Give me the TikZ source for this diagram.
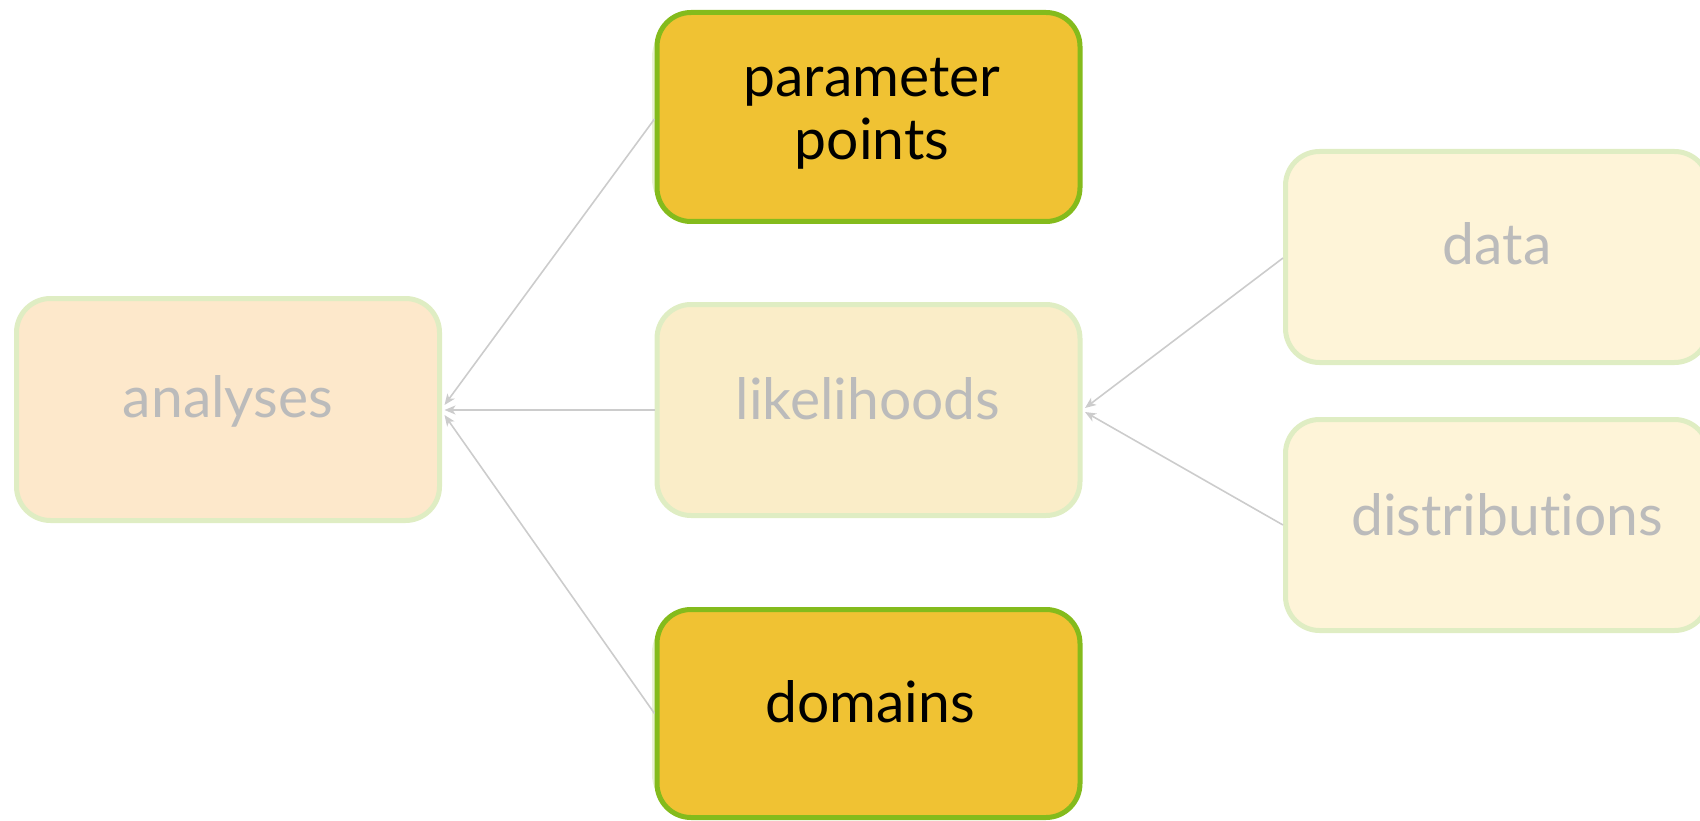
\documentclass[tikz,border=0pt]{standalone}
\usepackage{fontspec}
\setmainfont{Lato}[RawFeature=-liga]
\usetikzlibrary{arrows.meta,calc}

\definecolor{paleborder}{HTML}{DFEDC3}
\definecolor{peachfill}{HTML}{FDE8CB}
\definecolor{creamfill}{HTML}{FAEDC8}
\definecolor{lightfill}{HTML}{FEF4D8}
\definecolor{goldfill}{HTML}{F0C233}
\definecolor{greenborder}{HTML}{84BB1C}
\definecolor{dimtext}{HTML}{BBBBBB}
\definecolor{wire}{HTML}{CCCCCC}

\tikzset{
  card/.style={rectangle, rounded corners=34pt, line width=5pt,
    minimum width=423pt, inner sep=0pt},
  dimcard/.style={card, draw=paleborder},
  activecard/.style={card, draw=greenborder, fill=goldfill},
  ghostcard/.style={card, draw=paleborder!70, fill=white},
  lbl/.style={anchor=base, font=\fontsize{57}{68}\selectfont, inner sep=0pt},
  dimlbl/.style={lbl, text=dimtext},
  activelbl/.style={lbl, text=black},
  link/.style={draw=wire, line width=1.6pt,
    -{Stealth[length=11pt, width=9pt, inset=3pt]}}
}

\begin{document}
\begin{tikzpicture}[x=1pt, y=-1pt]
  \useasboundingbox (0,0) rectangle (1700,821);

  % boxes
  \node[dimcard, fill=peachfill, minimum height=222pt] (analyses) at (228,409.5) {};
  \node[ghostcard, minimum height=190pt] (paramsghost) at (866,118) {};
  \node[activecard, minimum height=209pt] (params) at (868.5,117) {};
  \node[dimcard, fill=creamfill, minimum height=211pt] (likelihoods) at (868.5,410) {};
  \node[dimcard, fill=lightfill, minimum height=211pt] (data) at (1497,257) {};
  \node[dimcard, fill=lightfill, minimum height=211pt] (distributions) at (1497,525) {};
  \node[ghostcard, minimum height=190pt] (domainsghost) at (866,713.5) {};
  \node[activecard, minimum height=208pt] (domains) at (868.5,713.5) {};

  % labels
  \node[dimlbl] (tanalyses) at (228,417) {analyses};
  \node[activelbl] (tparams1) at (872,97) {parameter};
  \node[activelbl] (tparams2) at (872,160) {points};
  \node[dimlbl] (tlikelihoods) at (868,419) {likelihoods};
  \node[dimlbl] (tdata) at (1497,265) {data};
  \node[dimlbl] (tdistributions) at (1507,535) {distributions};
  \node[activelbl] (tdomains) at (870,722) {domains};

  % connectors
  \draw[link] ($(params.west)+(0,2)$) -- ($(analyses.east)+(2.5,-4.5)$);
  \draw[link] ($(likelihoods.west)$) -- ($(analyses.east)+(2.5,0.5)$);
  \draw[link] ($(domains.west)+(0,0)$) -- ($(analyses.east)+(2.5,5.5)$);
  \draw[link] ($(data.west)+(0,1)$) -- ($(likelihoods.east)+(2.5,-2)$);
  \draw[link] ($(distributions.west)+(0,0)$) -- ($(likelihoods.east)+(2.5,2)$);
\end{tikzpicture}
\end{document}
